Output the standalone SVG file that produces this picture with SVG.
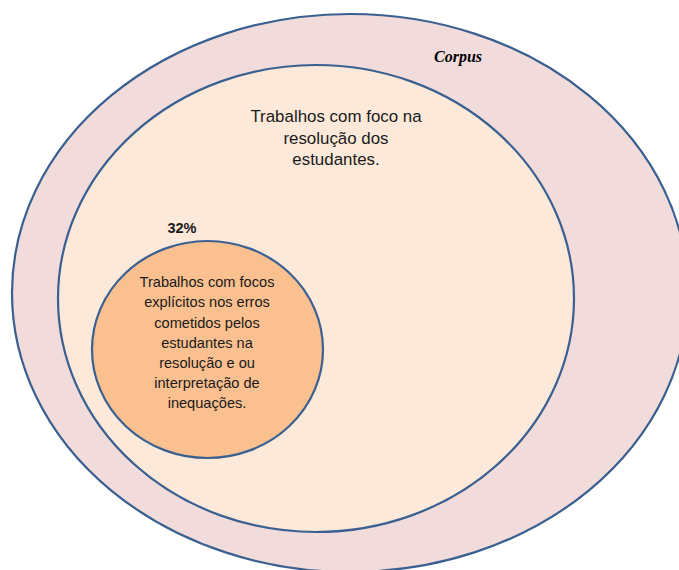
<svg xmlns="http://www.w3.org/2000/svg" width="679" height="570" viewBox="0 0 679 570">
<style>
.ring{stroke:#3A6091;stroke-width:2.2}
.t{font-family:"Liberation Sans",Arial,sans-serif;fill:#1a1a1a;text-anchor:middle}
</style>
<rect width="679" height="570" fill="#ffffff"/>
<g id="corpus">
<ellipse class="ring" cx="350" cy="293" rx="338" ry="279" fill="#F2DCDB"/>
<text x="458" y="62" font-family="'Liberation Serif','Times New Roman',serif" font-weight="bold" font-style="italic" font-size="16" text-anchor="middle" fill="#000">Corpus</text>
</g>
<g id="resolucao">
<ellipse class="ring" cx="316" cy="298.5" rx="258" ry="233.5" fill="#FDE9D9"/>
<text class="t" font-size="16.9"><tspan x="336" y="122">Trabalhos com foco na</tspan><tspan x="336" y="143.5">resolução dos</tspan><tspan x="336" y="165">estudantes.</tspan></text>
</g>
<g id="erros">
<ellipse class="ring" cx="207.5" cy="349.5" rx="115.5" ry="108.5" fill="#FAC090"/>
<text class="t" x="182" y="233" font-size="14.5" font-weight="bold" fill="#000">32%</text>
<text class="t" font-size="14.6"><tspan x="207" y="287">Trabalhos com focos</tspan><tspan x="207" y="307">explícitos nos erros</tspan><tspan x="207" y="327.5">cometidos pelos</tspan><tspan x="207" y="348">estudantes na</tspan><tspan x="207" y="368">resolução e ou</tspan><tspan x="207" y="388">interpretação de</tspan><tspan x="207" y="408">inequações.</tspan></text>
</g>
</svg>
